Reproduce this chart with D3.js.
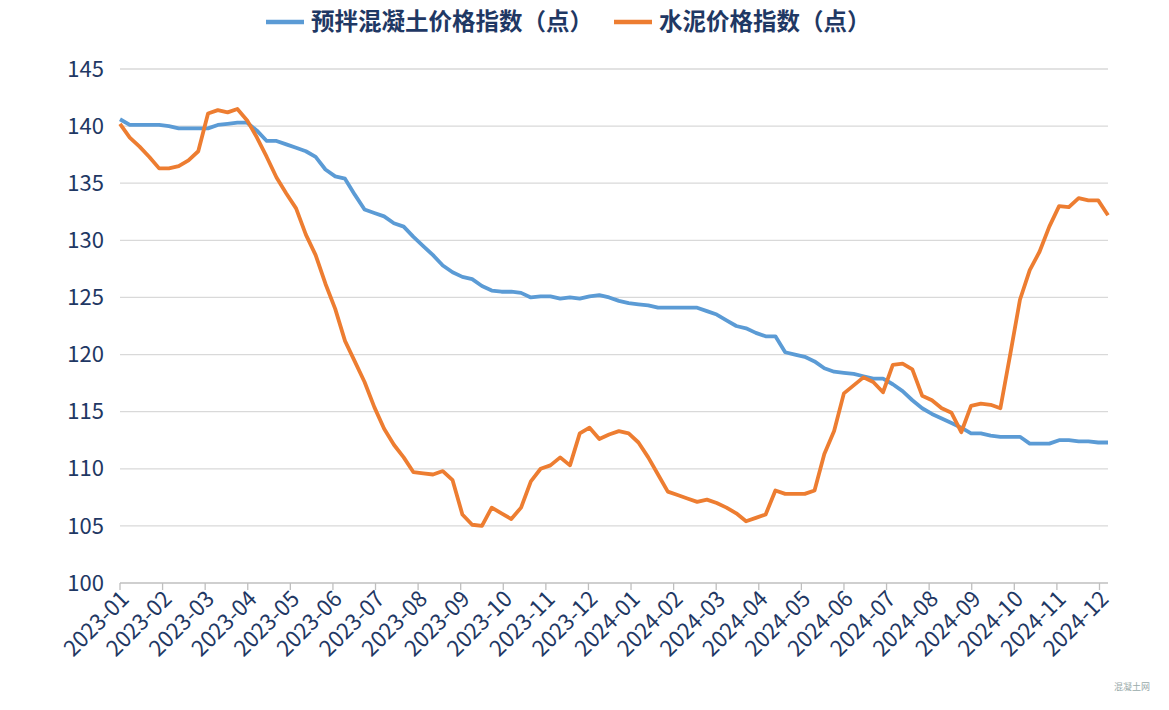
<!DOCTYPE html>
<html lang="zh-CN">
<head>
<meta charset="utf-8">
<title>价格指数</title>
<style>
  body { margin: 0; background: #fff; }
  svg text { font-family: "Noto Sans CJK SC", "Noto Sans", sans-serif; fill: #1f3864; }
</style>
<script src="https://d3js.org/d3.v7.min.js"></script>
</head>
<body>
<svg id="chart" width="1169" height="710"></svg>
<script>
// 月份标签
var months = ["2023-01","2023-02","2023-03","2023-04","2023-05","2023-06","2023-07","2023-08","2023-09","2023-10","2023-11","2023-12",
              "2024-01","2024-02","2024-03","2024-04","2024-05","2024-06","2024-07","2024-08","2024-09","2024-10","2024-11","2024-12"];
var yTicks = [100, 105, 110, 115, 120, 125, 130, 135, 140, 145];

// 预拌混凝土价格指数（周）
var concrete = [140.6,140.1,140.1,140.1,140.1,140,139.8,139.8,139.8,139.8,140.1,140.2,140.3,140.3,139.6,138.7,138.7,138.4,138.1,137.8,
  137.3,136.2,135.6,135.4,134,132.7,132.4,132.1,131.5,131.2,130.3,129.5,128.7,127.8,127.2,126.8,126.6,126,125.6,125.5,
  125.5,125.4,125,125.1,125.1,124.9,125,124.9,125.1,125.2,125,124.7,124.5,124.4,124.3,124.1,124.1,124.1,124.1,124.1,
  123.8,123.5,123,122.5,122.3,121.9,121.6,121.6,120.2,120,119.8,119.4,118.8,118.5,118.4,118.3,118.1,117.9,117.9,117.4,
  116.8,116,115.3,114.8,114.4,114,113.6,113.1,113.1,112.9,112.8,112.8,112.8,112.2,112.2,112.2,112.5,112.5,112.4,112.4,112.3,112.3];

// 水泥价格指数（周）
var cement = [140.2,139,138.2,137.3,136.3,136.3,136.5,137,137.8,141.1,141.4,141.2,141.5,140.5,139,137.3,135.5,134.1,132.8,130.5,
  128.7,126.2,124,121.2,119.4,117.6,115.4,113.5,112.1,111,109.7,109.6,109.5,109.8,109,106,105.1,105,106.6,106.1,
  105.6,106.6,108.9,110,110.3,111,110.3,113.1,113.6,112.6,113,113.3,113.1,112.3,111,109.5,108,107.7,107.4,107.1,
  107.3,107,106.6,106.1,105.4,105.7,106,108.1,107.8,107.8,107.8,108.1,111.3,113.3,116.6,117.3,118,117.6,116.7,119.1,
  119.2,118.7,116.4,116,115.3,114.9,113.2,115.5,115.7,115.6,115.3,120,124.8,127.4,129,131.2,133,132.9,133.7,133.5,133.5,132.2];

var series = [
  { name: "预拌混凝土价格指数（点）", values: concrete, color: "#5b9bd5" },
  { name: "水泥价格指数（点）", values: cement, color: "#ed7d31" }
];

var svg = d3.select("#chart");
var plotL = 120, plotR = 1108, plotT = 69, plotB = 583;
var lastMonth = 23.2;

var x = d3.scaleLinear().domain([0, lastMonth]).range([plotL, plotR]);
var y = d3.scaleLinear().domain([100, 145]).range([plotB, plotT]);

// 网格线
svg.append("g").selectAll("line").data(yTicks.slice(1)).join("line")
  .attr("x1", plotL).attr("x2", plotR)
  .attr("y1", function(d) { return y(d); }).attr("y2", function(d) { return y(d); })
  .attr("stroke", "#d9d9d9").attr("stroke-width", 1.3);

// y 轴标签
svg.append("g").selectAll("text").data(yTicks).join("text")
  .attr("x", 104).attr("y", function(d) { return y(d); })
  .attr("dy", "0.35em").attr("text-anchor", "end")
  .attr("font-size", 22).text(function(d) { return d; });

// x 轴
svg.append("line").attr("x1", plotL).attr("x2", plotR).attr("y1", plotB).attr("y2", plotB)
  .attr("stroke", "#bfbfbf").attr("stroke-width", 1.3);
svg.append("g").selectAll("line").data(months).join("line")
  .attr("x1", function(d, i) { return x(i); }).attr("x2", function(d, i) { return x(i); })
  .attr("y1", plotB).attr("y2", plotB + 7)
  .attr("stroke", "#bfbfbf").attr("stroke-width", 1.3);
svg.append("g").selectAll("text").data(months).join("text")
  .attr("transform", function(d, i) { return "translate(" + (x(i) + 5) + "," + (plotB + 12) + ") rotate(-45)"; })
  .attr("text-anchor", "end").attr("dy", "0.35em")
  .attr("font-size", 22).text(function(d) { return d; });

// 折线
var line = d3.line()
  .x(function(d, i, arr) { return x(i * lastMonth / (arr.length - 1)); })
  .y(function(d) { return y(d); });

svg.append("g").selectAll("path").data(series).join("path")
  .attr("d", function(s) { return line(s.values); })
  .attr("fill", "none").attr("stroke", function(s) { return s.color; })
  .attr("stroke-width", 3.8).attr("stroke-linejoin", "round");

// 图例
var lg = svg.append("g");
var legendX = [266, 614];
series.forEach(function(s, i) {
  lg.append("line").attr("x1", legendX[i]).attr("x2", legendX[i] + 38).attr("y1", 22).attr("y2", 22)
    .attr("stroke", s.color).attr("stroke-width", 4.5);
  lg.append("text").attr("x", legendX[i] + 45).attr("y", 22).attr("dy", "0.35em")
    .attr("font-size", 23.5).attr("font-weight", "bold").text(s.name);
});

// 水印
svg.append("text").attr("x", 1150).attr("y", 690).attr("text-anchor", "end")
  .attr("font-size", 9).style("fill", "#9aa").text("混凝土网");
</script>
</body>
</html>
